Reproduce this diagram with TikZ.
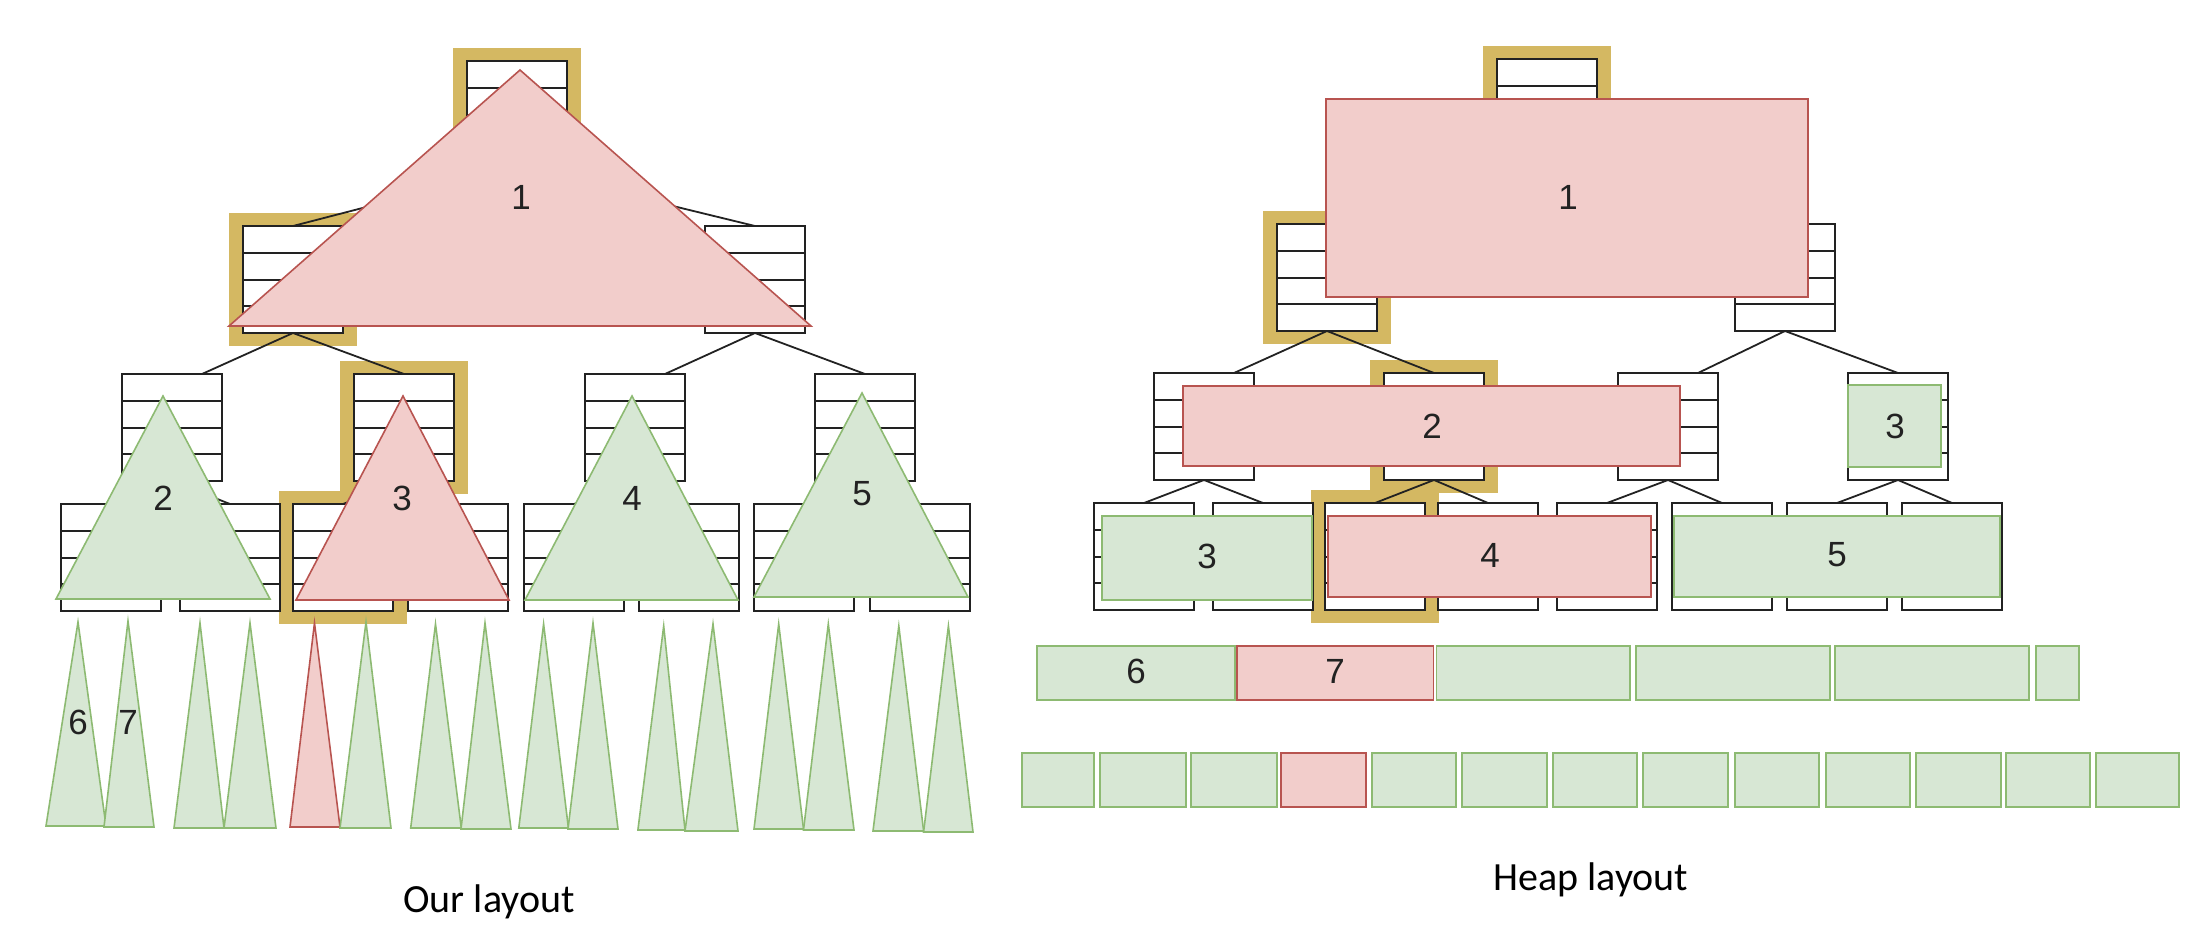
\documentclass[tikz,border=0pt]{standalone}
\usepackage{fontspec}
\setmainfont{Liberation Sans}
\newfontfamily\capfont{Carlito}
\usetikzlibrary{calc,backgrounds}
\definecolor{redfill}{HTML}{F2CDCB}
\definecolor{redline}{HTML}{B85450}
\definecolor{greenfill}{HTML}{D7E7D4}
\definecolor{greenline}{HTML}{8DBA72}
\definecolor{hlcol}{HTML}{D4B862}
\definecolor{ink}{HTML}{222222}
\tikzset{
  tnode/.style={draw=ink, line width=1pt, fill=white, minimum width=50pt, minimum height=53.5pt,
    inner sep=0pt, outer sep=0pt, anchor=north west,
    path picture={\foreach \k in {1,2,3}{\draw[ink, line width=1pt]
      ($(path picture bounding box.north west)!\k/4!(path picture bounding box.south west)$) --
      ($(path picture bounding box.north east)!\k/4!(path picture bounding box.south east)$);}}},
  hl/.style={fill=hlcol},
  edge/.style={draw=ink, line width=0.9pt},
  redshape/.style={fill=redfill, draw=redline, line width=0.8pt},
  greenshape/.style={fill=greenfill, draw=greenline, line width=0.8pt},
  lbl/.style={font=\fontsize{17.5}{20}\selectfont, text=ink, inner sep=0pt},
  caption/.style={font=\capfont\fontsize{20}{24}\selectfont, text=black, inner sep=0pt, anchor=base}
}
\begin{document}
\begin{tikzpicture}[x=0.5pt, y=-0.5pt]
\useasboundingbox (0,0) rectangle (2206,938);

% ---------------- left tree ----------------
\node[tnode] (Lr) at (467,61) {};
\node[tnode] (La) at (243,226) {};
\node[tnode] (Lb) at (705,226) {};
\node[tnode] (Lc1) at (122,374) {};
\node[tnode] (Lc2) at (354,374) {};
\node[tnode] (Lc3) at (585,374) {};
\node[tnode] (Lc4) at (815,374) {};
\foreach \x [count=\i] in {61,180,293,408,524,639,754,870}
  \node[tnode] (Ld\i) at (\x,504) {};

% ---------------- right tree ----------------
\node[tnode] (Rr) at (1497,59) {};
\node[tnode] (Ra) at (1277,224) {};
\node[tnode] (Rb) at (1735,224) {};
\node[tnode] (Rc1) at (1154,373) {};
\node[tnode] (Rc2) at (1384,373) {};
\node[tnode] (Rc3) at (1618,373) {};
\node[tnode] (Rc4) at (1848,373) {};
\foreach \x [count=\i] in {1094,1213,1325,1438,1557,1672,1787,1902}
  \node[tnode] (Rd\i) at (\x,503) {};

% highlights
\begin{scope}[on background layer]
\foreach \n in {Lr,La,Lc2,Ld3,Rr,Ra,Rc2,Rd3}
  \fill[hl] ($(\n.north west)+(-14,-13)$) rectangle ($(\n.south east)+(14,13)$);
\end{scope}

% edges
\foreach \T in {L,R}{
  \draw[edge] (\T r.south) -- (\T a.north);
  \draw[edge] (\T r.south) -- (\T b.north);
  \draw[edge] (\T a.south) -- ($(\T c1.north west)!0.8!(\T c1.north east)$);
  \draw[edge] (\T a.south) -- (\T c2.north);
  \draw[edge] (\T b.south) -- ($(\T c3.north west)!0.8!(\T c3.north east)$);
  \draw[edge] (\T b.south) -- (\T c4.north);
  \draw[edge] (\T c1.south) -- (\T d1.north);
  \draw[edge] (\T c1.south) -- (\T d2.north);
  \draw[edge] (\T c2.south) -- (\T d3.north);
  \draw[edge] (\T c2.south) -- (\T d4.north);
  \draw[edge] (\T c3.south) -- (\T d5.north);
  \draw[edge] (\T c3.south) -- (\T d6.north);
  \draw[edge] (\T c4.south) -- (\T d7.north);
  \draw[edge] (\T c4.south) -- (\T d8.north);
}

% ---------------- left overlays ----------------
\draw[redshape] (520,70) -- (811,326) -- (229,326) -- cycle;
\node[lbl] (t1) at (521,197) {1};
\draw[greenshape] (163,396) -- (270,599) -- (56,599) -- cycle;
\node[lbl] (t2) at (163,498) {2};
\draw[redshape] (403,396) -- (509,600) -- (296,600) -- cycle;
\node[lbl] (t3) at (402,498) {3};
\draw[greenshape] (632,396) -- (738,600) -- (525,600) -- cycle;
\node[lbl] (t4) at (632,498) {4};
\draw[greenshape] (862,393) -- (968,597) -- (754,597) -- cycle;
\node[lbl] (t5) at (862,494) {5};

\foreach \ax/\ay/\bl/\br/\by/\s in {
  78/622/46/106/826/greenshape, 128/621/104/154/827/greenshape,
  200/623/174/224/828/greenshape, 250/623/224/276/828/greenshape,
  314.5/623/290/340/827/redshape, 366/622/340/391/828/greenshape,
  435.5/624/410.7/461.3/828/greenshape, 485/623/461/511/829/greenshape,
  543.6/624/518.8/568.4/828/greenshape, 593/623/568/618/829/greenshape,
  663.7/626/637.9/685/830/greenshape, 713/624/685/738/831/greenshape,
  778.7/624/754/803.5/829/greenshape, 828.3/624/803.5/854/830/greenshape,
  898.8/626/873/923.6/831/greenshape, 948.4/626/923.6/973/832/greenshape}
  \draw[\s] (\ax,\ay) -- (\br,\by) -- (\bl,\by) -- cycle;
\node[lbl] (t6) at (78,722) {6};
\node[lbl] (t7) at (128,722) {7};

% ---------------- right overlays ----------------
\draw[redshape] (1326,99) rectangle (1808,297);
\node[lbl] (h1) at (1568,197) {1};
\draw[redshape] (1183,386) rectangle (1680,466);
\node[lbl] (h2) at (1432,426) {2};
\draw[greenshape] (1848,385) rectangle (1941,467);
\node[lbl] (h3a) at (1895,426) {3};
\draw[greenshape] (1102,516) rectangle (1312,600);
\node[lbl] (h3b) at (1207,556) {3};
\draw[redshape] (1328,516) rectangle (1651,597);
\node[lbl] (h4) at (1490,555) {4};
\draw[greenshape] (1674,516) rectangle (2000,597);
\node[lbl] (h5) at (1837,555) {5};

\foreach \l/\r/\s in {1037/1235/greenshape, 1237/1433.5/redshape, 1436.5/1630/greenshape,
  1636/1830/greenshape, 1835/2029/greenshape, 2036/2079/greenshape}
  \draw[\s] (\l,646) rectangle (\r,700);
\node[lbl] (h6) at (1136,671) {6};
\node[lbl] (h7) at (1335,671) {7};

\foreach \l/\r/\s in {1022/1094/greenshape, 1100/1186/greenshape, 1191/1277/greenshape,
  1281/1366/redshape, 1372/1456/greenshape, 1462/1547/greenshape, 1553/1637/greenshape,
  1643/1728/greenshape, 1735/1819/greenshape, 1826/1910/greenshape, 1916/2001/greenshape,
  2006/2090/greenshape, 2096/2179/greenshape}
  \draw[\s] (\l,753) rectangle (\r,807);

% captions
\node[caption] (cap1) at (489,912) {Our layout};
\node[caption] (cap2) at (1591,890) {Heap layout};
\end{tikzpicture}
\end{document}
